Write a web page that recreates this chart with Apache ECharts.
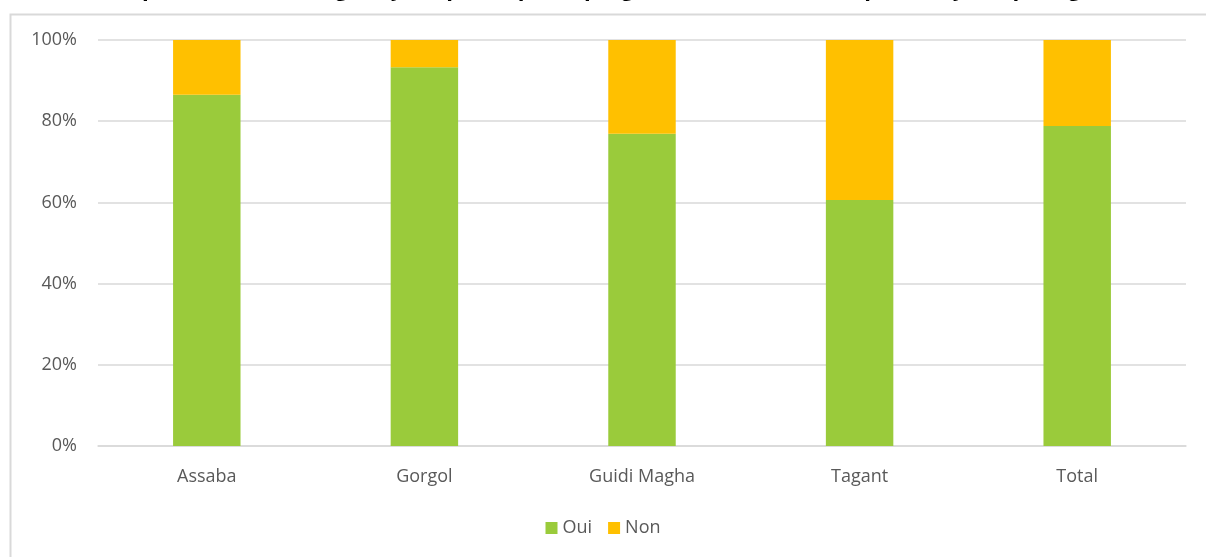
<!DOCTYPE html>
<html>
<head>
<meta charset="utf-8">
<script src="https://cdn.jsdelivr.net/npm/echarts@6/dist/echarts.min.js"></script>
<style>
  html, body { margin: 0; padding: 0; background: #fff; }
  #chart { width: 1206px; height: 557px; }
</style>
</head>
<body>
<div id="chart"></div>
<script>
// Share of households by region, stacked to 100%
const categories = ['Assaba', 'Gorgol', 'Guidi Magha', 'Tagant', 'Total'];
const ouiValues = [86.5, 93.3, 76.9, 60.6, 78.8];
const nonValues = [13.5, 6.7, 23.1, 39.4, 21.2];
const yTicks = [0, 20, 40, 60, 80, 100];
const titleText = 'Proportion des ménages ayant participé au programme de transfert (par wilaya et par âge)';

const chart = echarts.init(document.getElementById('chart'), null, { renderer: 'canvas' });

const labelFont = '"Open Sans", "Noto Sans", sans-serif';

chart.setOption({
  animation: false,
  backgroundColor: '#ffffff',
  graphic: [
    {
      // chart title, sitting at the very top edge of the canvas
      type: 'text',
      x: 603,
      y: 1,
      silent: true,
      style: {
        text: titleText,
        align: 'center',
        verticalAlign: 'bottom',
        font: 'bold 22px "Open Sans", "Noto Sans", sans-serif',
        fill: '#000000'
      }
    },
    {
      type: 'rect',
      left: 8,
      top: 12,
      shape: { width: 1220, height: 560 },
      style: { fill: 'none', stroke: '#d9d9d9', lineWidth: 2 },
      silent: true,
      z: -1
    }
  ],
  legend: {
    bottom: 15,
    left: 'center',
    itemWidth: 12,
    itemHeight: 12,
    itemGap: 16,
    icon: 'rect',
    textStyle: { fontFamily: labelFont, fontSize: 18, color: '#595959' },
    data: ['Oui', 'Non']
  },
  grid: { left: 98, right: 20, top: 40, bottom: 111 },
  xAxis: {
    type: 'category',
    data: categories,
    axisTick: { show: false },
    axisLine: { lineStyle: { color: '#d9d9d9', width: 1.5 } },
    axisLabel: { fontFamily: labelFont, fontSize: 18, color: '#595959', margin: 22 }
  },
  yAxis: {
    type: 'value',
    min: yTicks[0],
    max: yTicks[yTicks.length - 1],
    interval: 20,
    axisLine: { show: false },
    axisTick: { show: false },
    splitLine: { lineStyle: { color: '#d9d9d9', width: 1.5 } },
    axisLabel: {
      fontFamily: labelFont, fontSize: 18, color: '#595959', margin: 21,
      formatter: v => v + '%'
    }
  },
  series: [
    {
      name: 'Oui',
      type: 'bar',
      stack: 'total',
      barWidth: '31%',
      data: ouiValues,
      itemStyle: { color: '#9acb3b' }
    },
    {
      name: 'Non',
      type: 'bar',
      stack: 'total',
      barWidth: '31%',
      data: nonValues,
      itemStyle: { color: '#ffc000' }
    }
  ]
});
</script>
</body>
</html>
